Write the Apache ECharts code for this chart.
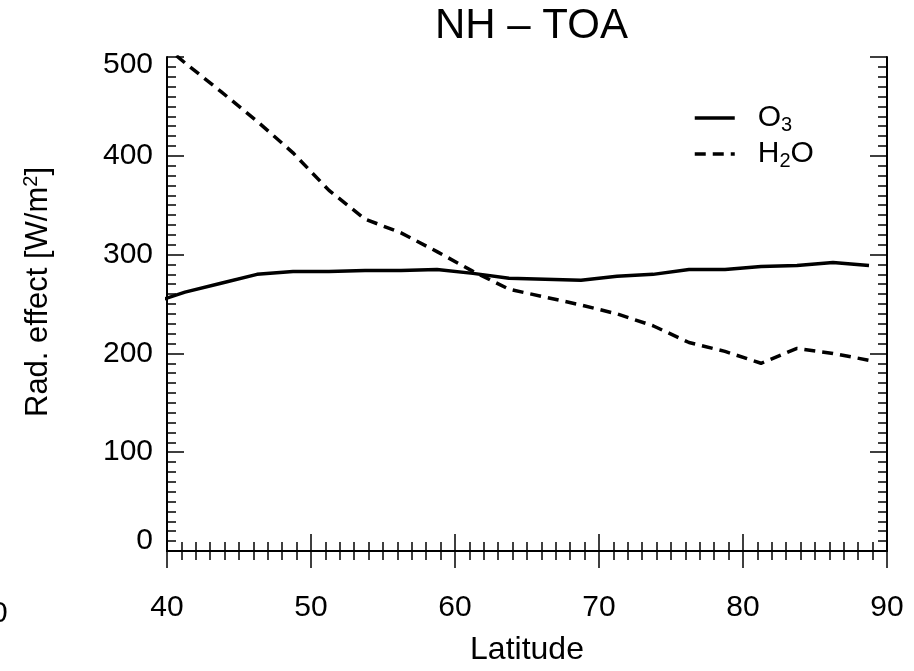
<!DOCTYPE html>
<html>
<head>
<meta charset="utf-8">
<title>NH - TOA</title>
<script src="https://cdn.jsdelivr.net/npm/echarts@6/dist/echarts.min.js"></script>
<style>
  html, body { margin: 0; padding: 0; background: #fff; }
  #chartMain { width: 914px; height: 671px; }
</style>
</head>
<body>
<div id="chartMain"></div>
<script>
// latitude grid (2.5 deg centres), first point lies just left of the axis and gets clipped
var lats = [38.75, 41.25, 43.75, 46.25, 48.75, 51.25, 53.75, 56.25, 58.75, 61.25, 63.75,
            66.25, 68.75, 71.25, 73.75, 76.25, 78.75, 81.25, 83.75, 86.25, 88.75];
var o3Vals = [250, 262, 271, 280, 283, 283, 284, 284, 285, 281, 276,
              275, 274, 278, 280, 285, 285, 288, 289, 292, 289];
var h2oVals = [525, 494, 465, 435, 403, 365, 336, 322, 303, 283, 265,
               257, 249, 240, 228, 211, 202, 190, 205, 200, 193];
var xTicks = [40, 50, 60, 70, 80, 90];
var yTicks = [0, 100, 200, 300, 400, 500];

var FONT = 'Liberation Sans';

function pairs(xs, ys) {
    var out = [];
    for (var i = 0; i < xs.length; i++) {
        out.push([xs[i], ys[i]]);
    }
    return out;
}

var myChart = echarts.init(document.getElementById('chartMain'));

var lineAx = { show: true, lineStyle: { color: '#000', width: 2 } };
var tickAx = { show: true, inside: true, length: 17, lineStyle: { color: '#000', width: 1.5 } };
var minorAx = { show: true, splitNumber: 10, length: 9, lineStyle: { color: '#000', width: 1.5 } };

var option = {
    animation: false,
    backgroundColor: '#fff',
    title: {
        text: 'NH \u2013 TOA',
        left: 430,
        top: 0,
        textStyle: { fontFamily: FONT, fontSize: 42, fontWeight: 'normal', color: '#000' }
    },
    legend: {
        orient: 'vertical',
        left: 688,
        top: 96,
        itemWidth: 40,
        itemHeight: 14,
        itemGap: 2,
        data: ['O3', 'H2O'],
        itemStyle: { opacity: 0 },
        lineStyle: { width: 3.5 },
        formatter: function (name) {
            if (name == 'O3') {
                return '{n|O}{s|3}';
            }
            return '{n|H}{s|2}{n|O}';
        },
        textStyle: {
            fontFamily: FONT,
            color: '#000',
            padding: [0, 0, 0, 18],
            rich: {
                n: { fontFamily: FONT, fontSize: 30, color: '#000', lineHeight: 34 },
                s: { fontFamily: FONT, fontSize: 20, color: '#000', padding: [14, 0, 0, 0], lineHeight: 34 }
            }
        }
    },
    grid: {
        left: 167,
        right: 27,
        top: 57,
        bottom: 114,
        containLabel: false
    },
    xAxis: [
        {
            type: 'value',
            min: xTicks[0],
            max: xTicks[xTicks.length - 1],
            interval: 10,
            position: 'bottom',
            name: 'Latitude',
            nameLocation: 'middle',
            nameGap: 83,
            nameTextStyle: { fontFamily: FONT, fontSize: 32, color: '#000' },
            axisLine: lineAx,
            axisTick: tickAx,
            minorTick: minorAx,
            splitLine: { show: false },
            axisLabel: { fontFamily: FONT, fontSize: 30, color: '#000', margin: 42 }
        },
        {
            type: 'value',
            min: xTicks[0],
            max: xTicks[xTicks.length - 1],
            interval: 10,
            position: 'top',
            axisLine: lineAx,
            axisTick: tickAx,
            minorTick: minorAx,
            splitLine: { show: false },
            axisLabel: { show: false }
        }
    ],
    yAxis: [
        {
            type: 'value',
            min: yTicks[0],
            max: yTicks[yTicks.length - 1],
            interval: 100,
            position: 'left',
            name: '{n|Rad. effect [W/m}{p|2}{n|]}',
            nameLocation: 'middle',
            nameGap: 112,
            nameTextStyle: {
                fontFamily: FONT,
                color: '#000',
                padding: [0, 0, 0, 24],
                rich: {
                    n: { fontFamily: FONT, fontSize: 31, color: '#000', lineHeight: 34 },
                    p: { fontFamily: FONT, fontSize: 20, color: '#000', padding: [0, 0, 14, 0], lineHeight: 34 }
                }
            },
            axisLine: lineAx,
            axisTick: tickAx,
            minorTick: minorAx,
            splitLine: { show: false },
            axisLabel: {
                fontFamily: FONT,
                fontSize: 30,
                color: '#000',
                margin: 14,
                // end labels are nudged inwards, as in the original plot
                formatter: function (v) {
                    if (v == yTicks[0]) return '{lo|' + v + '}';
                    if (v == yTicks[yTicks.length - 1]) return '{hi|' + v + '}';
                    return v;
                },
                rich: {
                    lo: { fontFamily: FONT, fontSize: 30, color: '#000', padding: [0, 0, 20, 0] },
                    hi: { fontFamily: FONT, fontSize: 30, color: '#000', padding: [16, 0, 0, 0] }
                }
            }
        },
        {
            type: 'value',
            min: yTicks[0],
            max: yTicks[yTicks.length - 1],
            interval: 100,
            position: 'right',
            axisLine: lineAx,
            axisTick: tickAx,
            minorTick: minorAx,
            splitLine: { show: false },
            axisLabel: { show: false }
        }
    ],
    graphic: [
        {
            // leftover tick label from the neighbouring panel
            type: 'text',
            left: -9,
            top: 599,
            style: { text: '0', fontFamily: FONT, fontSize: 30, fill: '#000' }
        }
    ],
    series: [
        {
            name: 'O3',
            type: 'line',
            xAxisIndex: 0,
            yAxisIndex: 0,
            symbol: 'none',
            clip: true,
            lineStyle: { color: '#000', width: 3.5 },
            itemStyle: { color: '#000' },
            data: pairs(lats, o3Vals)
        },
        {
            name: 'H2O',
            type: 'line',
            xAxisIndex: 0,
            yAxisIndex: 0,
            symbol: 'none',
            clip: true,
            lineStyle: { color: '#000', width: 3.5, type: [11, 7] },
            itemStyle: { color: '#000' },
            data: pairs(lats, h2oVals)
        }
    ]
};

myChart.setOption(option);

window.onresize = function () {
    myChart.resize();
};
</script>
</body>
</html>
